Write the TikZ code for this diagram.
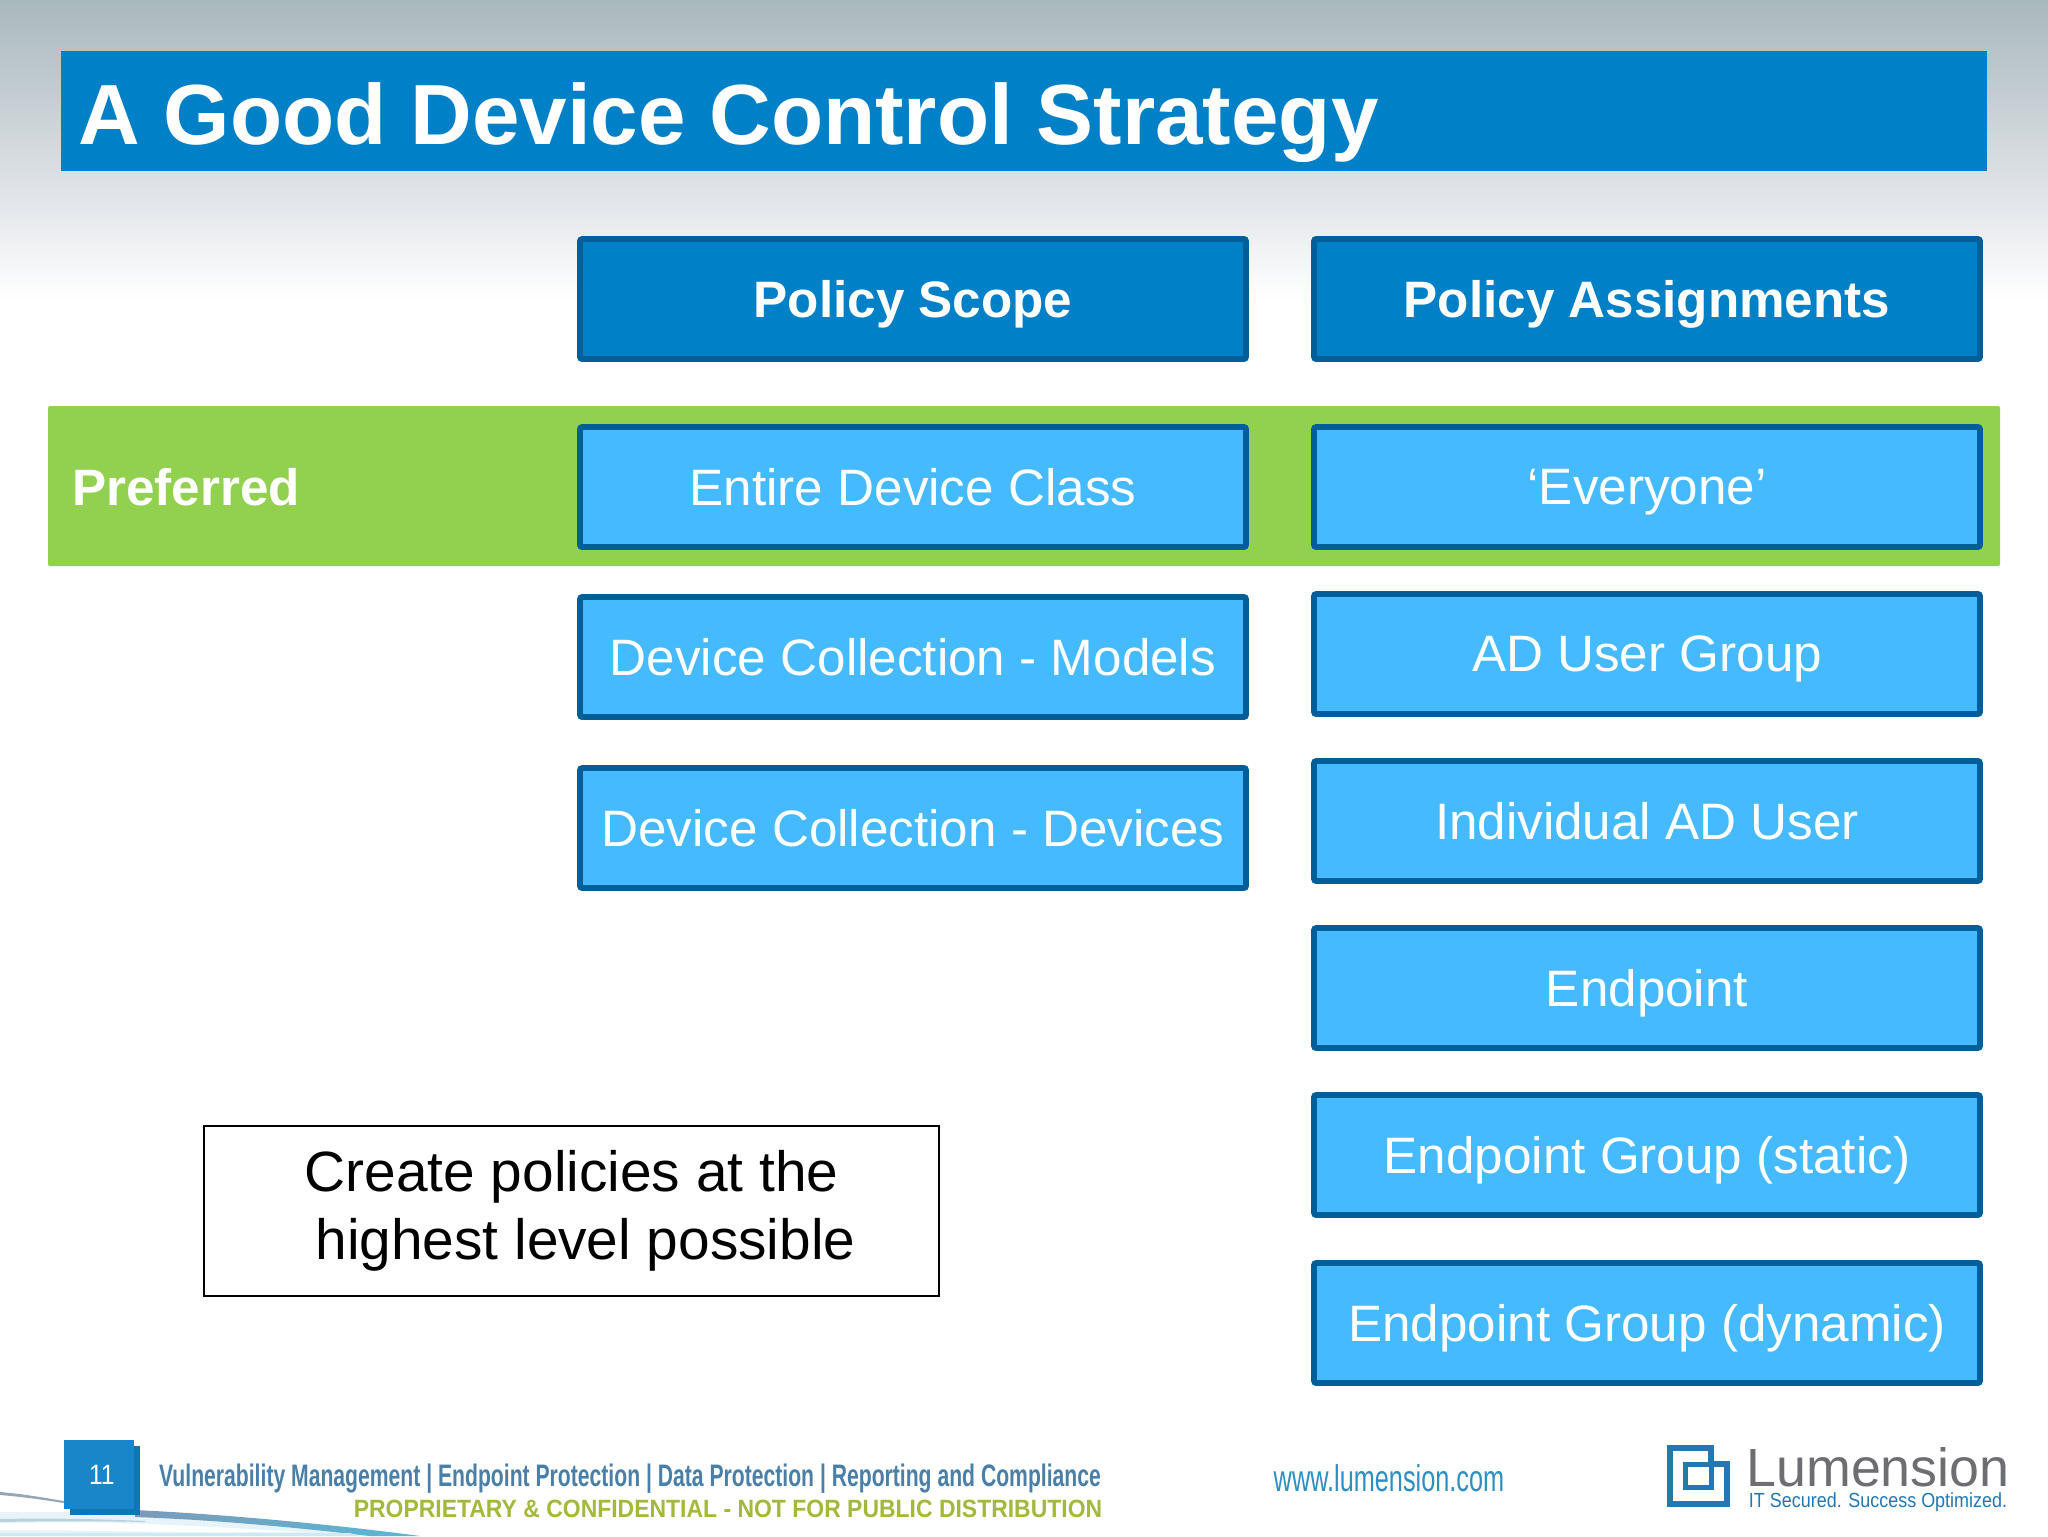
\documentclass[tikz,border=0pt]{standalone}
\usepackage{fontspec}
\setmainfont{Liberation Sans}
\newfontfamily\narrowf[FakeStretch=0.68]{Liberation Sans}
\newfontfamily\narrowg[FakeStretch=0.918]{Liberation Sans}
\newfontfamily\narrowt[FakeStretch=0.88]{Liberation Sans}
\usetikzlibrary{shapes.geometric}
\definecolor{titleblue}{HTML}{0080C6}
\definecolor{edgeblue}{HTML}{005F99}
\definecolor{lightblue}{HTML}{45BAFF}
\definecolor{prefgreen}{HTML}{92D050}
\definecolor{bgtop}{HTML}{A9B8BC}
\definecolor{bgmid}{HTML}{DFE3E8}
\definecolor{footblue}{HTML}{4A7FA8}
\definecolor{footgreen}{HTML}{A2B93A}
\definecolor{wwwblue}{HTML}{2E90C0}
\definecolor{logogray}{HTML}{6D6E71}
\definecolor{logoblue}{HTML}{2178B5}
\definecolor{pagefront}{HTML}{1A86CA}
\definecolor{pageback}{HTML}{0F76B6}
\definecolor{swooshpale}{HTML}{E6F4F9}
\definecolor{swooshgray}{HTML}{93A7B5}
\definecolor{swooshdark}{HTML}{7C9AB8}
\definecolor{swooshteal}{HTML}{58B8D6}
\definecolor{swooshband}{HTML}{B8D0DC}
\definecolor{swooshlow}{HTML}{CDE9F3}
\tikzset{
  x=0.5pt,y=-0.5pt,
  basebox/.style={draw=edgeblue,line width=2.8pt,rounded corners=1pt,minimum width=333pt,minimum height=60pt,inner sep=0pt,anchor=center,text depth=0pt,font=\fontsize{25.6}{30}\selectfont,text=white},
  headbox/.style={basebox,fill=titleblue,font=\fontsize{25.6}{30}\selectfont\bfseries},
  itembox/.style={basebox,fill=lightblue},
  logoline/.style={draw=logoblue,line width=2.9pt,line join=miter},
}
\begin{document}
\begin{tikzpicture}
\useasboundingbox (0,0) rectangle (2048,1536);
% background
\fill[white] (0,0) rectangle (2048,1536);
\shade[top color=bgtop,bottom color=bgmid] (0,0) rectangle (2048,190);
\shade[top color=bgmid,bottom color=white] (0,190) rectangle (2048,300);
% swoosh
\fill[swooshpale] (0,1512) .. controls (60,1512) and (100,1512) .. (140,1512) .. controls (240,1518) and (340,1526) .. (420,1536) -- (0,1536) -- cycle;
\fill[white] (0,1523) .. controls (100,1521) and (170,1524) .. (300,1532) .. controls (200,1533) and (80,1530) .. (0,1530) -- cycle;
\fill[swooshgray] (0,1492) .. controls (25,1494) and (45,1498) .. (70,1502) -- (70,1504) .. controls (45,1500) and (25,1497) .. (0,1495) -- cycle;
\shade[left color=swooshdark,right color=swooshteal] (135,1510) .. controls (220,1514) and (330,1524) .. (420,1536) -- (370,1536) .. controls (300,1528) and (220,1520) .. (135,1517) -- cycle;
\fill[swooshband] (0,1519) .. controls (50,1518) and (100,1519) .. (145,1521) -- (145,1522) .. controls (100,1521) and (50,1521) .. (0,1522) -- cycle;
\fill[swooshlow] (0,1533) -- (350,1533) -- (360,1536) -- (0,1536) -- cycle;
% title
\node[fill=titleblue,minimum width=963pt,minimum height=60pt,inner sep=0pt] (titlebar) at (1024,111) {};
\node[anchor=base west,inner sep=0pt,text=white,font=\fontsize{42.7}{48}\selectfont\bfseries] (titletext) at (78,144) {A Good Device Control Strategy};
% preferred band
\node[fill=prefgreen,rounded corners=1pt,minimum width=976pt,minimum height=80pt,inner sep=0pt] (band) at (1024,486) {};
\node[anchor=base west,inner sep=0pt,text=white,font=\fontsize{25.6}{30}\selectfont\bfseries] (preferred) at (72,505) {Preferred};
% column one
\node[headbox] (scope) at (913,299) {Policy Scope};
\node[itembox] (class) at (913,487) {Entire Device Class};
\node[itembox] (models) at (913,657) {Device Collection - Models};
\node[itembox] (devices) at (913,828) {Device Collection - Devices};
% column two
\node[headbox] (assign) at (1647,299) {Policy Assignments};
\node[itembox] (everyone) at (1647,487) {‘Everyone’};
\node[itembox] (adgroup) at (1647,654) {AD User Group};
\node[itembox] (aduser) at (1647,821) {Individual AD User};
\node[itembox] (endpoint) at (1647,988) {Endpoint};
\node[itembox] (static) at (1647,1155) {Endpoint Group (static)};
\node[itembox] (dynamic) at (1647,1323) {Endpoint Group (dynamic)};
% note
\node[draw=black,fill=white,line width=1.4pt,minimum width=367.5pt,minimum height=85pt,inner sep=0pt,align=center,font=\fontsize{28.4}{34}\selectfont] (note) at (571.5,1211) {Create policies at the\\\hspace*{14pt}highest level possible};
% footer
\fill[pageback] (70,1446) rectangle (140,1515);
\node[fill=pagefront,minimum width=35pt,minimum height=34.5pt,inner sep=0pt,text=white,font=\narrowt\fontsize{14}{16}\selectfont] (pagenum) at (99,1474.5) {\hspace*{2.8pt}11};
\node[inner sep=0pt,text=footblue,font=\narrowf\bfseries\fontsize{15.55}{17}\selectfont] (tagline) at (630,1479) {Vulnerability Management | Endpoint Protection | Data Protection | Reporting and Compliance};
\node[inner sep=0pt,text=footgreen,font=\narrowg\bfseries\fontsize{12.5}{14}\selectfont] (confidential) at (728,1509) {PROPRIETARY \& CONFIDENTIAL - NOT FOR PUBLIC DISTRIBUTION};
\node[inner sep=0pt,text=wwwblue,font=\narrowf\fontsize{18.6}{20}\selectfont] (www) at (1389,1478) {www.lumension.com};
% logo
\draw[logoline] (1670,1448) -- (1711,1448) -- (1711,1464) -- (1727,1464) -- (1727,1504) -- (1670,1504) -- cycle;
\draw[logoline,line width=2.5pt] (1685,1464) rectangle (1711,1487);
\node[inner sep=0pt,text=logogray,font=\fontsize{26.9}{30}\selectfont] (lumension) at (1878,1467) {Lumension};
\node[inner sep=0pt,text=logoblue,font=\narrowt\fontsize{10.2}{12}\selectfont] (secured) at (1878,1502) {IT Secured. Success Optimized.};
\end{tikzpicture}
\end{document}
